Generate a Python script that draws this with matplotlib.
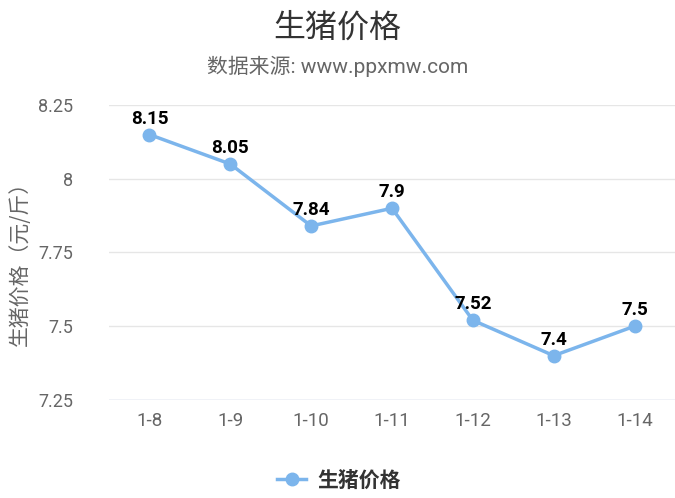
import matplotlib.pyplot as plt

plt.rcParams['font.family'] = ['Roboto', 'Noto Sans CJK SC', 'DejaVu Sans']

dates = ['1-8', '1-9', '1-10', '1-11', '1-12', '1-13', '1-14']
prices = [8.15, 8.05, 7.84, 7.9, 7.52, 7.4, 7.5]
yticks = [7.25, 7.5, 7.75, 8, 8.25]
ytick_labels = ['7.25', '7.5', '7.75', '8', '8.25']

line_color = '#7cb5ec'
grid_color = '#e6e6e6'
text_color = '#666666'

fig = plt.figure(figsize=(6.75, 4.98), dpi=100)
ax = fig.add_axes([0.1615, 0.197, 0.8385, 0.592])

x = list(range(len(dates)))
ax.plot(x, prices, color=line_color, lw=2.5, marker='o', ms=9,
        label='生猪价格', zorder=3, clip_on=False)

for xi, v in zip(x, prices):
    ax.annotate(f'{v:g}', (xi, v), xytext=(0, 5), textcoords='offset points',
                ha='center', va='bottom', fontsize=13.5, fontweight='bold',
                color='black', zorder=4)

ax.set_xlim(-0.5, len(dates) - 0.5)
ax.set_ylim(7.25, 8.25)
ax.set_xticks(x)
ax.set_xticklabels(dates)
ax.set_yticks(yticks)
ax.set_yticklabels(ytick_labels)
ax.tick_params(axis='x', length=0, labelsize=13.5, colors=text_color, pad=9)
ax.tick_params(axis='y', length=0, labelsize=13, colors=text_color, pad=26)

ax.grid(axis='y', color=grid_color, lw=1)
ax.set_axisbelow(True)
for s in ax.spines.values():
    s.set_visible(False)
ax.axhline(7.25, color='#ccd6eb', lw=1, zorder=1)

ax.set_ylabel('生猪价格（元/斤）', fontsize=15, color=text_color,
              family=['Noto Sans CJK SC', 'DejaVu Sans'])
ax.yaxis.set_label_coords(-0.138, 0.48)

fig.text(0.5, 0.944, '生猪价格', ha='center', va='center', fontsize=23,
         color='#333333', family=['Noto Sans CJK SC', 'DejaVu Sans'])
fig.text(0.5, 0.866, '数据来源: www.ppxmw.com', ha='center', va='center',
         fontsize=15, color=text_color)

leg = fig.legend(loc='center', bbox_to_anchor=(0.502, 0.036), frameon=False,
                 prop={'family': ['Noto Sans CJK SC', 'DejaVu Sans'],
                       'weight': 'bold', 'size': 15},
                 handlelength=1.4, handletextpad=0.5)
for t in leg.get_texts():
    t.set_color('#333333')

fig.savefig('out.png', dpi=100)
